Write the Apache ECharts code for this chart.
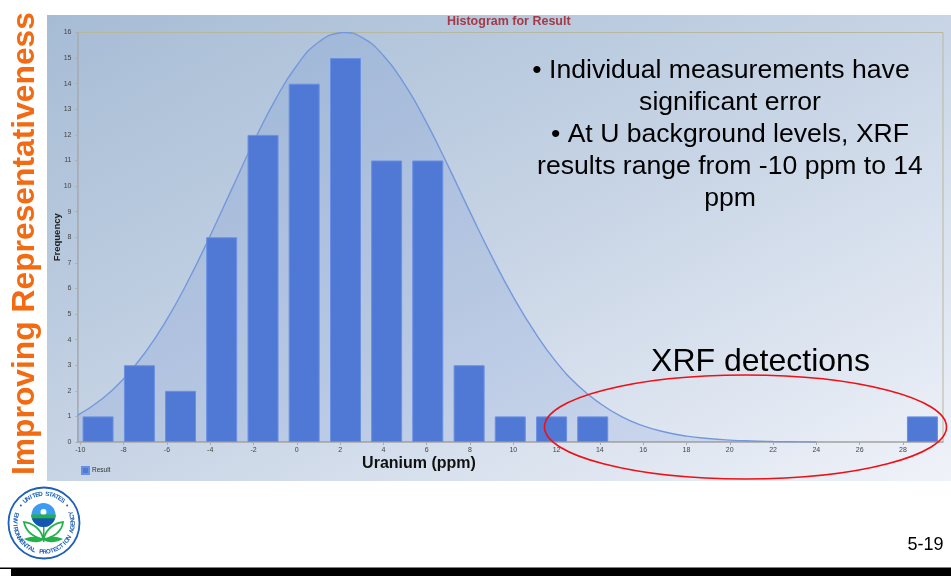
<!DOCTYPE html>
<html><head><meta charset="utf-8">
<style>html,body{margin:0;padding:0;background:#fff}#c{width:951px;height:576px}</style>
<script src="https://cdn.jsdelivr.net/npm/echarts@6/dist/echarts.min.js"></script>
</head><body><div id="c"></div>
<script>
const binCenters=[-9.18,-7.27,-5.37,-3.47,-1.56,0.34,2.25,4.15,6.05,7.96,9.86,11.77,13.67,15.57,17.48,19.38,21.29,23.19,25.09,27.0,28.9];
const frequencies=[1,3,2,8,12,14,15,11,11,3,1,1,1,0,0,0,0,0,0,0,1];
const curveX=[-10.13,-9,-8,-7,-6,-5,-4,-3,-2,-1,0,1,2,2.15,3,4,5,6,7,8,9,10,11,12,13,14,15,16,17,18,19,20,21,22,23,24];
const curveY=[1.04,1.68,2.47,3.5,4.79,6.33,8.06,9.89,11.71,13.36,14.71,15.62,15.99,16,15.81,15.1,13.95,12.47,10.77,8.99,7.26,5.67,4.28,3.11,2.2,1.51,0.99,0.63,0.39,0.23,0.135,0.075,0.04,0.02,0.007,0];
const xTicks=[-10,-8,-6,-4,-2,0,2,4,6,8,10,12,14,16,18,20,22,24,26,28];
const yTicks=[0,1,2,3,4,5,6,7,8,9,10,11,12,13,14,15,16];
const sideTitle="Improving Representativeness";
const bulletLines=[["• Individual measurements have",721,71],["significant error",730,103],["• At U background levels, XRF",730,135],["results range from -10 ppm to 14",730,167],["ppm",730,199]];

const F='"Liberation Sans",Arial,sans-serif';
const g=[];
g.push({type:'rect',z:-10,silent:true,shape:{x:47,y:15,width:904,height:466},
 style:{fill:{type:'linear',global:true,x:309,y:-120,x2:689,y2:616,colorStops:[{offset:0,color:'#a6bcd5'},{offset:.5,color:'#c7d4e5'},{offset:1,color:'#eff2f9'}]}}});
g.push({type:'rect',silent:true,shape:{x:0,y:567.5,width:951,height:9},style:{fill:'#000'}});
g.push({type:'rect',silent:true,shape:{x:0,y:569,width:11,height:7},style:{fill:'#fff'}});
function txt(t,x,y,size,extra){g.push({type:'text',z:20,silent:true,x:x,y:y,style:Object.assign({text:t,font:size+'px '+F,fill:'#000',align:'center',verticalAlign:'middle'},extra||{})});}
bulletLines.forEach(l=>txt(l[0],l[1],l[2],26.6));
txt("XRF detections",760.5,362,32);
txt("Uranium (ppm)",419,463.5,16,{font:'bold 16px '+F,fill:'#111'});
txt("5-19",925.5,545,18);
g.push({type:'text',z:20,silent:true,x:25.5,y:243.5,rotation:Math.PI/2,style:{text:sideTitle,font:'bold 31.8px '+F,fill:'#f26a12',align:'center',verticalAlign:'middle'}});
g.push({type:'ellipse',z:25,silent:true,shape:{cx:745.5,cy:427,rx:201,ry:52},style:{fill:'none',stroke:'#f00f14',lineWidth:1.6}});

// EPA seal
const cx=44,cy=523,blue='#1c5fb8',green='#22b14c';
function bez(p0,p1,p2,p3){const o=[];for(let i=0;i<=14;i++){const t=i/14,u=1-t;o.push([u*u*u*p0[0]+3*u*u*t*p1[0]+3*u*t*t*p2[0]+t*t*t*p3[0],u*u*u*p0[1]+3*u*u*t*p1[1]+3*u*t*t*p2[1]+t*t*t*p3[1]]);}return o;}
function leaf(a,c1,c2,b,c3,c4,z,style){g.push({type:'polygon',z:z,silent:true,shape:{points:bez(a,c1,c2,b).concat(bez(b,c3,c4,a))},style:style});}
g.push({type:'circle',z:30,silent:true,shape:{cx,cy,r:35.5},style:{fill:'#fff',stroke:blue,lineWidth:1.8}});
function arcText(s,startDeg,endDeg,r,isTop){const n=s.length;for(let i=0;i<n;i++){const a=(startDeg+(endDeg-startDeg)*(n>1?i/(n-1):0))*Math.PI/180;
 g.push({type:'text',z:31,silent:true,x:cx+r*Math.cos(a),y:cy+r*Math.sin(a),rotation:isTop?-(a+Math.PI/2):-(a-Math.PI/2),
  style:{text:s[i],font:'bold 6.2px '+F,fill:blue,align:'center',verticalAlign:'middle'}});}}
arcText("UNITED STATES",-130,-50,29,true);
arcText("ENVIRONMENTAL PROTECTION AGENCY",197,-20,29,false);
[-143,-37].forEach(d=>g.push({type:'circle',z:31,silent:true,shape:{cx:cx+29*Math.cos(d*Math.PI/180),cy:cy+29*Math.sin(d*Math.PI/180),r:1},style:{fill:blue}}));
g.push({type:'circle',z:31,silent:true,shape:{cx:cx-.5,cy:cy-8,r:12},style:{fill:'#3d9bf0'}});
g.push({type:'circle',z:32,silent:true,shape:{cx:cx-.5,cy:cy-11,r:3},style:{fill:'#fff'}});
g.push({type:'sector',z:32,silent:true,shape:{cx:cx-.5,cy:cy-8,r:12,r0:0,startAngle:0,endAngle:Math.PI,clockwise:true},style:{fill:'#1556b0'}});
g.push({type:'rect',z:33,silent:true,shape:{x:31.6,y:514.5,width:23.8,height:3.8},style:{fill:green}});
leaf([43,539],[36,538],[26,533],[24,522],[33,523],[42,530],33,{fill:'#fff',stroke:green,lineWidth:1.8});
leaf([44,539],[52,538],[62,532],[63,522],[54,523],[45,530],33,{fill:'#fff',stroke:green,lineWidth:1.8});
leaf([24,539],[32,535],[40,537],[43.5,540],[40,543],[31,543],34,{fill:green});
leaf([63,539],[55,535],[47,537],[43.5,540],[47,543],[56,543],34,{fill:green});
g.push({type:'rect',z:34,silent:true,shape:{x:43,y:527,width:1.5,height:15},style:{fill:green}});

const barData=binCenters.map((x,i)=>[x,frequencies[i]]).filter(d=>d[1]>0);
const chart=echarts.init(document.getElementById('c'),null,{renderer:'canvas'});
chart.setOption({
 animation:false,
 backgroundColor:'#fff',
 title:{text:'Histogram for Result',left:447,top:15,padding:0,textStyle:{fontFamily:F,fontSize:12.5,fontWeight:'bold',color:'#a23b45'}},
 grid:{left:77.5,top:32.5,right:8,bottom:134,show:true,borderColor:'#b8b89e',borderWidth:1,backgroundColor:'transparent'},
 legend:{left:81,top:466,itemWidth:7,itemHeight:7,itemGap:3,padding:0,data:[{name:'Result',icon:'rect'}],textStyle:{fontFamily:F,fontSize:6.5,color:'#333',padding:[0,0,0,-2]}},
 xAxis:{type:'value',min:-10.13,max:29.85,splitLine:{show:false},
  axisLine:{onZero:false,lineStyle:{color:'#a9abb0',width:1.5}},
  axisTick:{length:3,lineStyle:{color:'#a9abb0'},customValues:xTicks},
  axisLabel:{fontFamily:F,fontSize:7,color:'#444',margin:5,customValues:xTicks,hideOverlap:false}},
 yAxis:{type:'value',min:0,max:16,splitLine:{show:false},name:'Frequency',nameLocation:'middle',nameGap:15,nameMoveOverlap:false,
  nameTextStyle:{fontFamily:F,fontSize:9.5,fontWeight:'bold',color:'#222'},
  axisLine:{show:true,onZero:false,lineStyle:{color:'#a9abb0',width:1.5}},
  axisTick:{show:true,length:2,lineStyle:{color:'#a9abb0'},customValues:yTicks},
  axisLabel:{fontFamily:F,fontSize:7,color:'#444',margin:6,customValues:yTicks}},
 graphic:g,
 series:[
  {name:'Curve',type:'line',smooth:true,symbol:'none',z:2,data:curveX.map((x,i)=>[x,curveY[i]]),
   lineStyle:{color:'#7598dc',width:1.4},areaStyle:{color:'rgba(72,110,205,0.2)'}},
  {name:'Result',type:'bar',z:3,barWidth:31,data:barData,
   itemStyle:{color:'#5079d6',borderColor:'#6a90e2',borderWidth:1}}
 ]
});
</script></body></html>
